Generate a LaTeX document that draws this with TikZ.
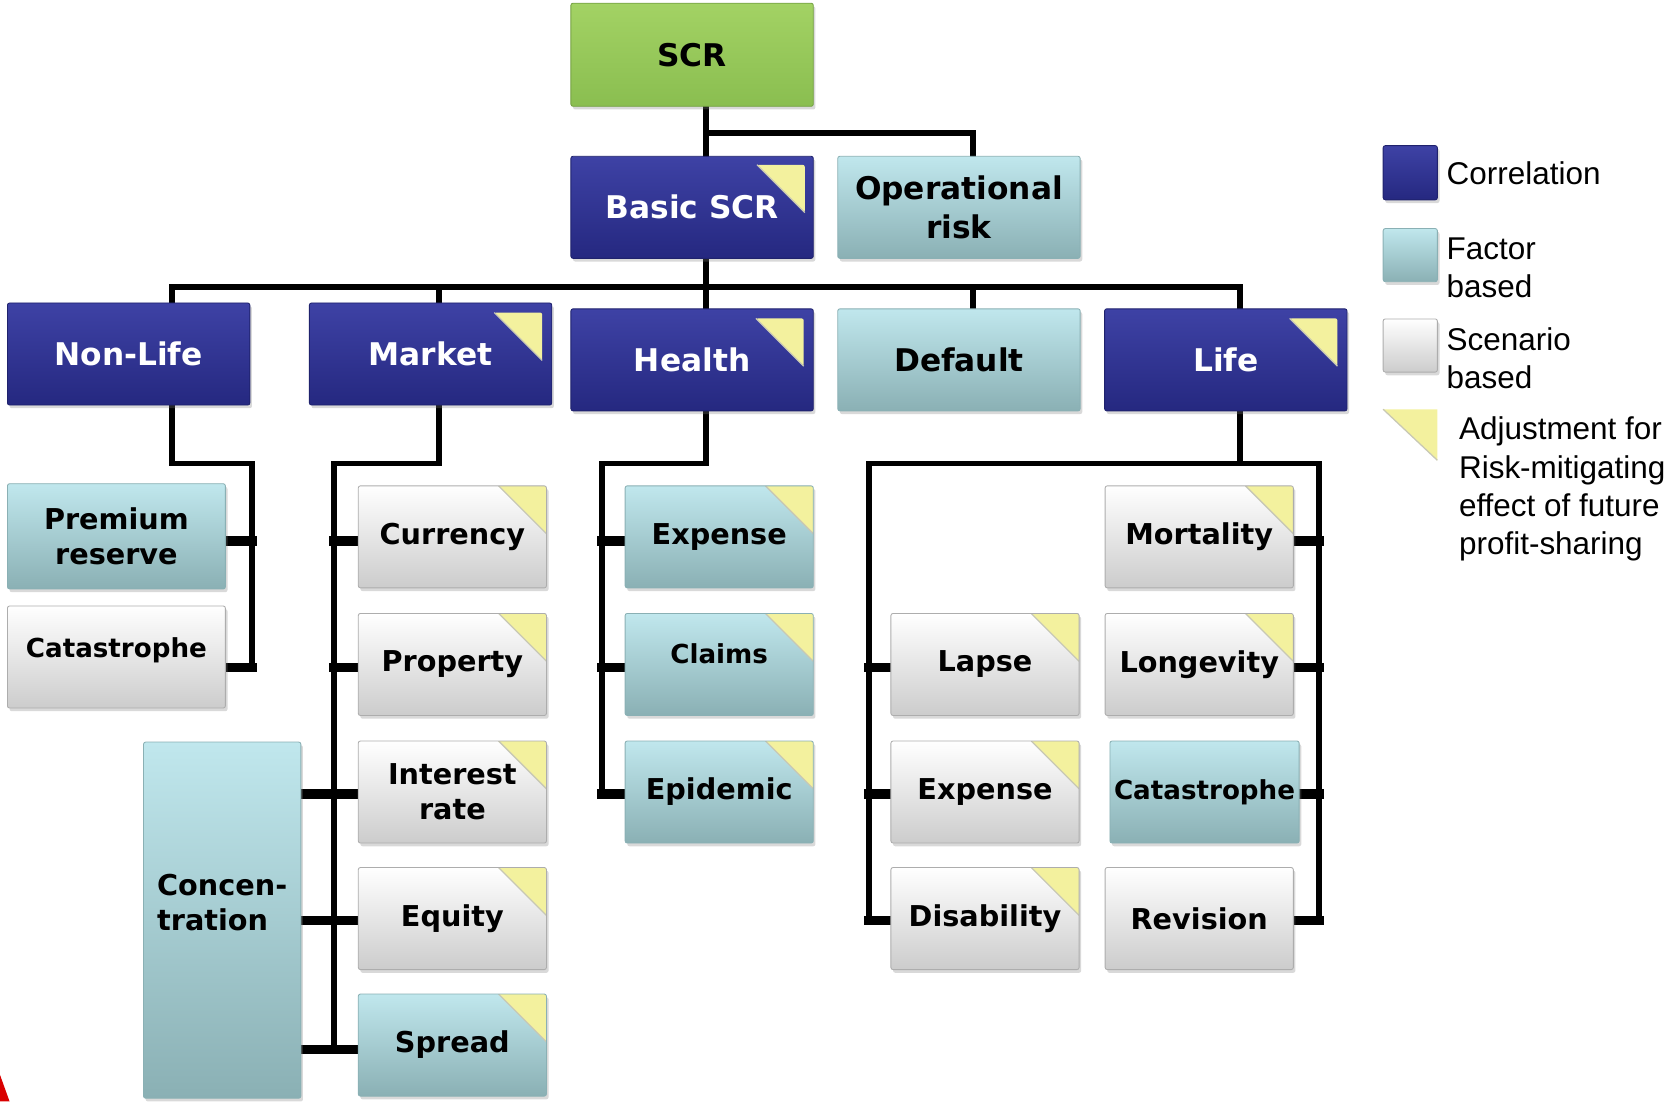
\documentclass[tikz,border=0pt]{standalone}
\usepackage{fontspec}
\newfontfamily\boxfont{DejaVu Sans}
\newfontfamily\legfont{Liberation Sans}
\usetikzlibrary{calc,shadows,positioning,backgrounds}

\definecolor{corrtop}{RGB}{62,66,165}
\definecolor{corrbot}{RGB}{37,40,128}
\definecolor{factop}{RGB}{192,231,237}
\definecolor{facbot}{RGB}{138,176,180}
\definecolor{scenbot}{RGB}{204,204,204}
\definecolor{scrtop}{RGB}{163,210,100}
\definecolor{scrbot}{RGB}{138,190,80}
\definecolor{adjyellow}{RGB}{243,241,158}
\definecolor{adjedge}{RGB}{200,200,180}

\tikzset{
  box/.style={minimum width=88.5pt, minimum height=48pt, inner sep=1pt, align=center, rounded corners=1pt,
    drop shadow={shadow xshift=1pt, shadow yshift=-1.5pt, opacity=.3},
    font=\boxfont\bfseries\fontsize{13.5}{16.5}\selectfont},
  topbox/.style={box, minimum width=114pt, font=\boxfont\bfseries\fontsize{14.7}{18}\selectfont},
  small/.style={font=\boxfont\bfseries\fontsize{12.3}{15}\selectfont},
  corr/.style={top color=corrtop, bottom color=corrbot, draw=corrbot!85!black, text=white},
  factor/.style={top color=factop, bottom color=facbot, draw=facbot},
  scen/.style={top color=white, bottom color=scenbot, draw=scenbot!85!black},
  adj/.style={path picture={
    \fill[adjyellow] ([shift={(-#1,#1)}]path picture bounding box.north east) -- ++(-45,0) -- ++(45,45) -- cycle;
    \draw[adjedge, line width=.6pt] ([shift={(-#1-45,#1)}]path picture bounding box.north east) -- ++(45,45);}},
  adj/.default=0,
  link/.style={line width=2.75pt, line cap=rect},
  stub/.style={line width=4.5pt, line cap=rect},
  legtext/.style={font=\legfont\fontsize{14.8}{18}\selectfont, align=left, inner sep=0pt}
}

\begin{document}
\begin{tikzpicture}[x=0.5pt, y=-0.5pt]
\useasboundingbox (0,0) rectangle (1568,1036);

\node[topbox, top color=scrtop, bottom color=scrbot, draw=scrbot!85!black, minimum height=48.5pt] (scr) at (651,51.5) {SCR};
\node[topbox, corr, adj=8] (basic) at (651,195) {Basic SCR};
\node[topbox, factor] (oprisk) at (902,195) {Operational\\risk};

\node[topbox, corr] (nonlife) at (121,333) {Non-Life};
\node[topbox, corr, adj=9] (market) at (405,333) {Market};
\node[topbox, corr, adj=9] (health) at (651,338.5) {Health};
\node[topbox, factor] (dflt) at (902,338.5) {Default};
\node[topbox, corr, adj=9] (life) at (1153,338.5) {Life};

% non-life
\node[box, factor, minimum width=102.5pt, minimum height=49.5pt] (premium) at (109.5,504.5) {Premium\\reserve};
\node[box, scen, small, minimum width=102.5pt, text depth=9pt] (catnl) at (109.5,618) {Catastrophe};

% market
\foreach \n/\t/\yy in {currency/Currency/505, property/Property/625, interest/{Interest\\rate}/745, equity/Equity/864}
  \node[box, scen, adj] (\n) at (425.5,\yy) {\t};
\node[box, factor, adj] (spread) at (425.5,983) {Spread};
\node[box, factor, minimum width=74pt, minimum height=167.5pt, align=left, text depth=17pt] (conc) at (209,865.5) {Concen-\\tration};

% health
\node[box, factor, adj] (hexpense) at (676.5,505) {Expense};
\node[box, factor, small, adj, text depth=10pt] (claims) at (676.5,625) {Claims};
\node[box, factor, adj] (epidemic) at (676.5,745) {Epidemic};

% life
\foreach \n/\t/\yy in {lapse/Lapse/625, lexpense/Expense/745, disability/Disability/864}
  \node[box, scen, adj] (\n) at (926.5,\yy) {\t};
\node[box, scen, adj] (mortality) at (1128,505) {Mortality};
\node[box, scen, adj] (longevity) at (1128,625) {Longevity};
\node[box, factor, small, minimum width=89pt] (catlife) at (1133,745) {Catastrophe};
\node[box, scen] (revision) at (1128,864) {Revision};

% legend
\node[box, corr, minimum width=25.5pt, minimum height=25.5pt] (legcorr) at (1326.5,162.5) {};
\node[legtext, right=4pt of legcorr] (legcorrtext) {Correlation};
\node[box, factor, minimum width=25.5pt, minimum height=25pt] (legfac) at (1326.5,240) {};
\node[legtext, right=4pt of legfac, yshift=-6pt] (legfactext) {Factor\\based};
\node[box, scen, minimum width=25.5pt, minimum height=25pt] (legscen) at (1326.5,325) {};
\node[legtext, right=4pt of legscen, yshift=-6pt] (legscentext) {Scenario\\based};
\fill[adjyellow] (1301,385) -- (1352,385) -- (1352,433) -- cycle;
\draw[adjedge, line width=.6pt] (1301,385) -- (1352,433);
\node[legtext, anchor=north west] (legadjtext) at (1372,392) {Adjustment for\\Risk-mitigating\\effect of future\\profit-sharing};

\fill[red!85!black] (0,1011) -- (9,1036) -- (0,1036) -- cycle;

\begin{scope}[on background layer]
\coordinate (dbasic) at (664,125);
\coordinate (dop) at (915,125);
\draw[link] (dbasic |- scr.south) -- (dbasic |- basic.north);
\draw[link] (dbasic) -- (dop) -- (dop |- oprisk.north);

\foreach \n/\x in {nonlife/162, market/413, health/664, dflt/915, life/1166}
  \coordinate (d\n) at (\x,270);
\draw[link] (dnonlife |- nonlife.north) -- (dnonlife) -- (dlife) -- (dlife |- life.north);
\draw[link] (dhealth |- basic.south) -- (dhealth |- health.north);
\draw[link] (dmarket) -- (dmarket |- market.north);
\draw[link] (ddflt) -- (ddflt |- dflt.north);

\foreach \r/\yy in {1/509, 2/628, 3/747, 4/866, 5/987}
  \coordinate (r\r) at (0,\yy);

\coordinate (nlbus) at (237,436);
\draw[link] (dnonlife |- nonlife.south) |- (nlbus) -- (nlbus |- r2);
\draw[stub] (premium.east |- r1) -- (nlbus |- r1);
\draw[stub] (catnl.east |- r2) -- (nlbus |- r2);

\coordinate (mkbus) at (314,436);
\draw[link] (dmarket |- market.south) |- (mkbus) -- (mkbus |- r5);
\foreach \n/\r in {currency/r1, property/r2}
  \draw[stub] (mkbus |- \r) -- (\n.west |- \r);
\foreach \n/\r in {interest/r3, equity/r4, spread/r5}
  \draw[stub] (conc.east |- \r) -- (\n.west |- \r);

\coordinate (hbus) at (566,436);
\draw[link] (dhealth |- health.south) |- (hbus) -- (hbus |- r3);
\foreach \n/\r in {hexpense/r1, claims/r2, epidemic/r3}
  \draw[stub] (hbus |- \r) -- (\n.west |- \r);

\coordinate (lbusl) at (817,436);
\coordinate (lbusr) at (1241,436);
\draw[link] (dlife |- life.south) -- (dlife |- lbusl);
\draw[link] (lbusl |- r4) -- (lbusl) -- (lbusr) -- (lbusr |- r4);
\foreach \n/\r in {lapse/r2, lexpense/r3, disability/r4}
  \draw[stub] (lbusl |- \r) -- (\n.west |- \r);
\foreach \n/\r in {mortality/r1, longevity/r2, catlife/r3, revision/r4}
  \draw[stub] (\n.east |- \r) -- (lbusr |- \r);
\end{scope}

\end{tikzpicture}
\end{document}
